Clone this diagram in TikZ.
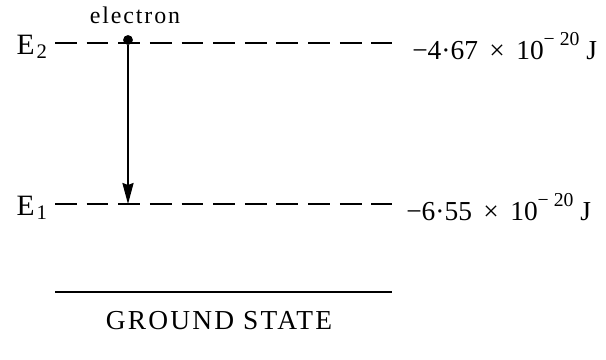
\documentclass[tikz,border=0pt]{standalone}
\usepackage{tikz}
\usetikzlibrary{arrows.meta, positioning}
\usepackage{fontspec}
\setmainfont{Liberation Serif}
\newcommand{\expo}[1]{\raisebox{0.5em}{\fontsize{14}{16}\selectfont #1}}

\begin{document}
\begin{tikzpicture}[
    x=0.025cm, y=-0.025cm,
    level/.style={line width=2pt, dash pattern=on 15.5pt off 7pt},
    ground/.style={line width=2pt},
    lbl/.style={font=\fontsize{19.5}{22}\selectfont, inner sep=0pt},
    arrow/.style={-{Stealth[length=15pt, width=8pt, inset=1.5pt]}, line width=0.8pt}
]
    \useasboundingbox (0,0) rectangle (606,360);
    % energy levels
    \coordinate (e2l) at (55,43);  \coordinate (e2r) at (392,43);
    \coordinate (e1l) at (55,204); \coordinate (e1r) at (392,204);
    \coordinate (gsl) at (55,292); \coordinate (gsr) at (392,292);
    \draw[level] (e2l) -- (e2r);
    \draw[level] (e1l) -- (e1r);
    \draw[ground] (gsl) -- (gsr);
    \node[lbl, anchor=east, font=\fontsize{21}{24}\selectfont] (E2) at (48,47) {E\kern1.5pt\textsubscript{2}};
    \node[lbl, anchor=east, font=\fontsize{21}{24}\selectfont] (E1) at (48,208) {E\kern1.5pt\textsubscript{1}};
    \node[lbl, anchor=west] (v2) at (412,46) {−4·67\,\ ×\,\ 10\expo{− 20}\ J};
    \node[lbl, anchor=west] (v1) at (406,207) {−6·55\,\ ×\,\ 10\expo{− 20}\ J};
    \node[lbl, font=\fontsize{19.5}{22}\selectfont\addfontfeature{LetterSpace=8}] (gs) at (219,321) {GROUND STATE};
    % electron and transition
    \node[circle, fill, inner sep=0pt, minimum size=7pt] (el) at (128,40) {};
    \node[lbl, font=\fontsize{17}{20}\selectfont\addfontfeature{LetterSpace=8}] (eltext) at (135,15) {electron};
    \coordinate (drop) at (128,204);
    \draw[arrow] (el) -- (drop);
\end{tikzpicture}
\end{document}
